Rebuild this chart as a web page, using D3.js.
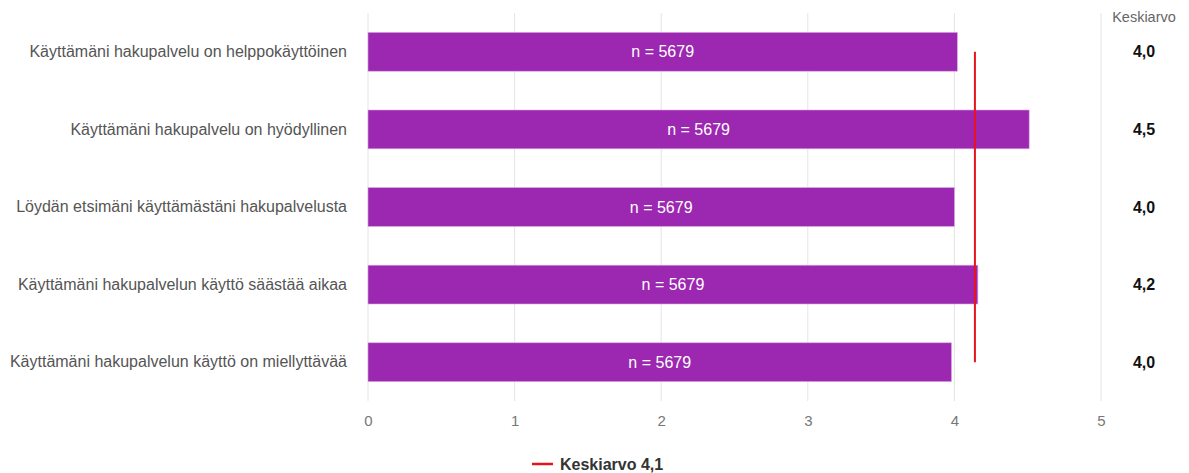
<!DOCTYPE html>
<html>
<head>
<meta charset="utf-8">
<script src="https://cdn.jsdelivr.net/npm/d3@7"></script>
<style>
  body { margin: 0; background: #fff; }
  text { font-family: "Liberation Sans", Arial, sans-serif; }
</style>
</head>
<body>
<div id="chart"></div>
<script>
const width = 1189
const height = 473
const margin = {top: 13, bottom: 72, left: 368, right: 88}

// data
const categories = [
    "Käyttämäni hakupalvelu on helppokäyttöinen",
    "Käyttämäni hakupalvelu on hyödyllinen",
    "Löydän etsimäni käyttämästäni hakupalvelusta",
    "Käyttämäni hakupalvelun käyttö säästää aikaa",
    "Käyttämäni hakupalvelun käyttö on miellyttävää"
]
const values = [4.02, 4.51, 4.0, 4.16, 3.98]
const meanLabels = ["4,0", "4,5", "4,0", "4,2", "4,0"]
const counts = [5679, 5679, 5679, 5679, 5679]
const overallMean = 4.14
const overallMeanLabel = "Keskiarvo 4,1"
const xTicks = [0, 1, 2, 3, 4, 5]

const svg = d3.select("#chart").append("svg").attr("width", width).attr("height", height)
const innerW = width - margin.left - margin.right
const innerH = height - margin.top - margin.bottom

const x = d3.scaleLinear().domain([0, 5]).range([0, innerW])
const y = d3.scaleBand().domain(categories).range([0, innerH]).paddingInner(0.5).paddingOuter(0.25)

const g = svg.append("g").attr("transform", `translate(${margin.left}, ${margin.top})`)

// grid
g.append("g").selectAll("line").data(xTicks).join("line")
    .attr("x1", d => x(d)).attr("x2", d => x(d))
    .attr("y1", 0).attr("y2", innerH)
    .attr("stroke", "#e4e4e4").attr("stroke-width", 1)

// x axis labels
const xAxis = d3.axisBottom(x).tickValues(xTicks).tickFormat(d3.format("d")).tickSize(0).tickPadding(14)
const xAxisGroup = g.append("g").attr("transform", `translate(0, ${innerH})`).call(xAxis)
xAxisGroup.select(".domain").remove()
xAxisGroup.selectAll("text").attr("font-size", 15).attr("fill", "#777")
    .attr("font-family", "Liberation Sans, Arial, sans-serif")

// y axis labels
const yAxis = d3.axisLeft(y).tickSize(0).tickPadding(21)
const yAxisGroup = g.append("g").call(yAxis)
yAxisGroup.select(".domain").remove()
yAxisGroup.selectAll("text").attr("font-size", 16).attr("fill", "#555")
    .attr("font-family", "Liberation Sans, Arial, sans-serif")

// bars
const rows = categories.map((c, i) => ({cat: c, value: values[i], n: counts[i], label: meanLabels[i]}))

g.selectAll("rect.bar").data(rows).join("rect")
    .attr("class", "bar")
    .attr("x", 0)
    .attr("y", d => y(d.cat))
    .attr("width", d => x(d.value))
    .attr("height", y.bandwidth())
    .attr("fill", "#9c27b0")
    .attr("stroke", "#d9a6e0").attr("stroke-width", 0.6)

g.selectAll("text.n").data(rows).join("text")
    .attr("class", "n")
    .attr("x", d => x(d.value) / 2)
    .attr("y", d => y(d.cat) + y.bandwidth() / 2)
    .attr("dy", "0.35em")
    .attr("text-anchor", "middle")
    .attr("font-size", 16)
    .attr("fill", "#fff")
    .text(d => `n = ${d.n}`)

// mean line
const firstC = y(categories[0]) + y.bandwidth() / 2
const lastC = y(categories[categories.length - 1]) + y.bandwidth() / 2
g.append("line")
    .attr("x1", x(overallMean)).attr("x2", x(overallMean))
    .attr("y1", firstC).attr("y2", lastC)
    .attr("stroke", "#e8141c").attr("stroke-width", 2)

// right column
const colX = x(5) + 43
g.append("text")
    .attr("x", colX).attr("y", 4)
    .attr("dy", "0.35em")
    .attr("text-anchor", "middle")
    .attr("font-size", 14.5)
    .attr("fill", "#666")
    .text("Keskiarvo")

g.selectAll("text.mean").data(rows).join("text")
    .attr("class", "mean")
    .attr("x", colX)
    .attr("y", d => y(d.cat) + y.bandwidth() / 2)
    .attr("dy", "0.35em")
    .attr("text-anchor", "middle")
    .attr("font-size", 16)
    .attr("font-weight", "bold")
    .attr("fill", "#111")
    .text(d => d.label)

// legend
const legend = svg.append("g").attr("transform", `translate(532, 464)`)
legend.append("line").attr("x1", 0).attr("x2", 21).attr("y1", 0).attr("y2", 0)
    .attr("stroke", "#e8141c").attr("stroke-width", 2.5)
legend.append("text").attr("x", 28).attr("y", 0).attr("dy", "0.35em")
    .attr("font-size", 16).attr("font-weight", "bold").attr("fill", "#333")
    .text(overallMeanLabel)
</script>
</body>
</html>
